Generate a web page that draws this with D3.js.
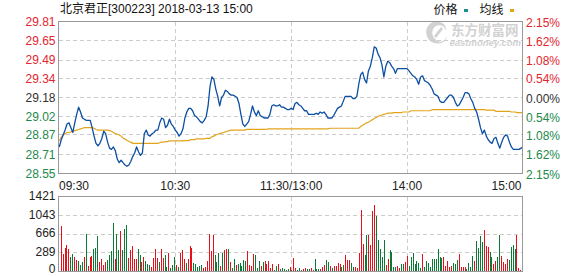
<!DOCTYPE html>
<html><head><meta charset="utf-8">
<script src="https://cdn.jsdelivr.net/npm/d3@7"></script>
<style>body{margin:0;background:#fff}svg{display:block}text{font-family:"Liberation Sans","Noto Sans CJK SC",sans-serif}</style>
</head><body><svg id="c" width="578" height="276"></svg>
<script>
const stockName = "北京君正[300223]";
const stamp = "2018-03-13 15:00";
const legendNames = ["价格", "均线"];
const priceTicks = ["29.81","29.65","29.49","29.34","29.18","29.02","28.87","28.71","28.55"];
const pctTicks = ["2.15%","1.62%","1.08%","0.54%","0.00%","0.54%","1.08%","1.62%","2.15%"];
const volTicks = ["1421","1043","666","289","0"];
const timeLabels = ["09:30","10:30","11:30/13:00","14:00","15:00"];
const timeIdx = [0,60,120,180,240];
const price = [
28.77,28.83,28.87,28.91,28.96,28.97,28.93,28.89,28.97,29.04,
29.10,29.06,29.01,29.00,28.99,28.99,28.99,28.93,28.86,28.80,
28.78,28.80,28.84,28.90,28.88,28.81,28.76,28.75,28.77,28.74,
28.67,28.64,28.66,28.64,28.62,28.61,28.62,28.65,28.69,28.72,
28.77,28.73,28.70,28.72,28.88,28.91,28.87,28.86,28.88,28.89,
28.91,28.91,28.97,29.01,29.00,28.93,28.95,29.00,28.96,28.94,
28.91,28.89,28.86,28.88,28.92,29.01,29.06,29.09,29.09,29.07,
29.03,29.02,29.00,28.98,28.97,28.99,29.02,29.11,29.27,29.35,
29.33,29.25,29.19,29.11,29.18,29.20,29.24,29.23,29.21,29.20,
29.20,29.19,29.18,29.13,29.04,28.96,28.94,28.96,28.98,29.04,
29.11,29.06,29.03,29.07,29.03,29.02,29.01,29.01,29.01,29.04,
29.11,29.12,29.11,29.11,29.12,29.10,29.10,29.09,29.08,29.08,
29.09,29.08,29.13,29.14,29.12,29.11,29.09,29.07,29.07,29.04,
29.04,29.04,29.04,29.05,29.04,29.06,29.05,29.06,29.04,29.01,
29.01,29.01,29.03,29.06,29.09,29.10,29.11,29.15,29.19,29.19,
29.19,29.19,29.17,29.17,29.19,29.29,29.37,29.39,29.33,29.30,
29.40,29.44,29.51,29.60,29.59,29.54,29.51,29.45,29.35,29.44,
29.48,29.47,29.44,29.42,29.38,29.42,29.42,29.42,29.42,29.42,
29.42,29.40,29.38,29.36,29.35,29.33,29.29,29.35,29.36,29.32,
29.31,29.30,29.28,29.25,29.21,29.20,29.19,29.15,29.14,29.14,
29.16,29.18,29.20,29.20,29.18,29.14,29.11,29.12,29.15,29.18,
29.22,29.22,29.21,29.17,29.14,29.09,29.06,29.00,28.93,28.88,
28.91,28.86,28.83,28.81,28.80,28.84,28.85,28.80,28.76,28.81,
28.85,28.87,28.86,28.81,28.77,28.75,28.75,28.75,28.75,28.76,
28.77];
const avgPrice = [
28.82,28.85,28.87,28.88,28.89,28.89,28.895,28.90,28.905,28.91,
28.915,28.92,28.925,28.93,28.93,28.93,28.93,28.93,28.925,28.915,
28.91,28.91,28.91,28.91,28.91,28.91,28.905,28.90,28.89,28.88,
28.875,28.87,28.86,28.845,28.835,28.825,28.815,28.81,28.80,28.80,
28.80,28.80,28.80,28.80,28.80,28.80,28.80,28.80,28.80,28.80,
28.80,28.80,28.805,28.81,28.81,28.815,28.815,28.82,28.82,28.82,
28.82,28.82,28.82,28.82,28.82,28.823,28.823,28.823,28.831,28.831,
28.831,28.837,28.837,28.837,28.837,28.837,28.842,28.842,28.842,28.855,
28.86,28.87,28.875,28.88,28.885,28.89,28.895,28.90,28.905,28.91,
28.91,28.91,28.91,28.91,28.91,28.91,28.91,28.915,28.915,28.915,
28.915,28.915,28.915,28.915,28.915,28.915,28.915,28.915,28.92,28.92,
28.92,28.92,28.92,28.92,28.92,28.92,28.92,28.92,28.92,28.92,
28.92,28.92,28.92,28.92,28.92,28.92,28.92,28.92,28.92,28.92,
28.92,28.92,28.92,28.92,28.92,28.92,28.92,28.92,28.92,28.92,
28.925,28.925,28.925,28.925,28.925,28.925,28.925,28.925,28.925,28.925,
28.925,28.925,28.925,28.925,28.925,28.925,28.94,28.95,28.96,28.97,
28.975,28.985,28.995,29.005,29.015,29.025,29.03,29.035,29.04,29.045,
29.05,29.05,29.05,29.055,29.055,29.055,29.055,29.055,29.06,29.06,
29.06,29.06,29.07,29.07,29.07,29.07,29.07,29.07,29.07,29.07,
29.07,29.07,29.07,29.08,29.08,29.08,29.08,29.08,29.08,29.08,
29.08,29.08,29.08,29.08,29.08,29.08,29.08,29.08,29.08,29.08,
29.08,29.08,29.08,29.08,29.08,29.08,29.08,29.08,29.08,29.08,
29.08,29.075,29.075,29.075,29.075,29.075,29.065,29.065,29.065,29.065,
29.065,29.065,29.065,29.065,29.06,29.06,29.06,29.055,29.055,29.055,
29.055];
const volume = [
853,322,448,493,429,272,322,259,208,189,
114,177,272,701,95,259,284,411,448,663,
177,221,114,177,208,303,385,916,227,714,
398,764,398,796,872,240,398,474,227,227,
417,303,177,259,189,133,114,82,240,429,
240,177,429,240,303,76,335,57,114,272,
107,76,335,398,227,158,227,474,448,158,
133,82,101,107,63,82,196,701,379,682,
303,177,335,95,335,398,429,411,177,63,
227,120,133,158,95,208,196,379,114,95,
316,297,63,189,95,171,189,126,189,57,
133,25,95,133,44,57,32,19,32,82,
20,
240,51,19,51,19,32,51,38,38,51,
19,221,38,38,38,69,114,208,171,95,
57,95,95,145,133,82,114,303,208,208,
145,69,69,51,335,1156,512,303,682,682,
493,1137,1251,1042,587,429,259,600,114,221,
398,360,69,69,88,51,133,133,171,284,
88,259,335,133,189,145,57,322,69,189,
145,69,227,227,227,417,265,246,265,95,
189,76,95,152,133,208,322,76,76,76,
38,152,76,284,189,568,436,663,549,777,
474,455,360,265,133,189,265,682,284,171,
133,227,208,455,493,417,682,57,
10,777];
const volDir = ("rrrrrggrrg"+"ggrgrrrggg"+"rrrrggggrg"+"grgggrrrrr"+"ggrrgggrrr"+"rgrrggrggg"+
  "rgrrrgrrrg"+"ggggrrrrrr"+"gggrgrrgrg"+"grgggggrrr"+"rgggrgrrrr"+"rggrgggggr"+
  "g"+"rrgggrrggr"+"rgggrrrggr"+"grrrrggrrr"+"ggrrrrrggr"+"rrrgggggrr"+"ggggrrggrr"+
  "gggggggrgg"+"ggggggggrr"+"rrrgggrrrr"+"ggggrggggr"+"rrggrrggrr"+"rrggggrr"+"r"+"r").split("");

const RED = "#e3262e", GREEN = "#23894a", DARK = "#333333";
const FRAME = "#999999", GRID = "#cccccc";
const svg = d3.select("#c");
const L = 58.5, R = 522.5, T = 21.5, B = 173.5, VT = 196.5, VB = 271.5;

const x = d3.scaleLinear().domain([0, 240]).range([59.3, 523]);
const y = d3.scaleLinear().domain([+priceTicks[8], +priceTicks[0]]).range([B, T]);
const xb = d3.scaleBand().domain(d3.range(volume.length)).range([60.7, 523.2]).paddingInner(0.48);
const yv = d3.scaleLinear().domain([0, +volTicks[0]]).range([VB - 0.5, VT]);
const yvTick = d3.scalePoint().domain(volTicks).range([VT - 0.5, VB - 0.5]);

// header
svg.append("text").attr("x", 60).attr("y", 13).attr("font-size", 12).attr("fill", "#111")
  .text(stockName + " " + stamp);
// legend
const lg = svg.append("g");
lg.append("text").attr("x", 433.5).attr("y", 14).attr("font-size", 12).attr("fill", "#111").text(legendNames[0]);
lg.append("rect").attr("x", 464).attr("y", 9).attr("width", 4).attr("height", 3).attr("fill", "#15908c");
lg.append("text").attr("x", 479.5).attr("y", 14).attr("font-size", 12).attr("fill", "#111").text(legendNames[1]);
lg.append("rect").attr("x", 510).attr("y", 9).attr("width", 4).attr("height", 3).attr("fill", "#e2a514");

// watermark
const wm = svg.append("g").attr("fill", "#d2d2d2");
wm.append("path").attr("d", "M430,41 C424,35 425,25 433,22 C440,20 447,24 446,31 C445,26 440,24 436,26 C431,29 431,36 436,40 C441,44 446,40 447,36 C447,43 437,46 430,41 Z");
wm.append("path").attr("d", "M434,36 L441,27 L443,29 L436,38 Z");
wm.append("text").attr("x", 451).attr("y", 34.5).attr("font-size", 13.5).attr("font-weight", "bold")
  .attr("font-family", "Noto Sans CJK SC").text("东方财富网");
wm.append("text").attr("x", 449.5).attr("y", 45.5).attr("font-size", 9.5).attr("font-weight", "bold")
  .attr("font-style", "italic").text("eastmoney.com");

// gridlines
const grid = svg.append("g").attr("stroke", GRID).attr("stroke-dasharray", "4,3").attr("shape-rendering", "crispEdges");
priceTicks.slice(1, -1).forEach(t => {
  const yy = Math.round(y(+t) - 0.5) + 0.5;
  grid.append("line").attr("x1", L).attr("x2", R).attr("y1", yy).attr("y2", yy);
});
timeIdx.slice(1, -1).forEach(t => {
  const xx = Math.floor(x(t)) + 0.5;
  grid.append("line").attr("x1", xx).attr("x2", xx).attr("y1", T).attr("y2", B);
  grid.append("line").attr("x1", xx).attr("x2", xx).attr("y1", VT).attr("y2", VB);
});
volTicks.slice(1, -1).forEach(t => {
  const yy = Math.round(yvTick(t)) + 0.5;
  grid.append("line").attr("x1", L).attr("x2", R).attr("y1", yy).attr("y2", yy);
});

// price axes labels
priceTicks.forEach((t, i) => {
  const c = i < 4 ? RED : (i === 4 ? DARK : GREEN);
  svg.append("text").attr("x", 55.5).attr("y", y(+t)).attr("dy", "0.36em").attr("text-anchor", "end")
    .attr("font-size", 12).attr("fill", c).text(t);
  svg.append("text").attr("x", 526).attr("y", y(+t) + 0.8).attr("dy", "0.36em")
    .attr("font-size", 12).attr("fill", c).text(pctTicks[i]);
});
// volume labels
volTicks.forEach((t, i) => {
  const shift = i === volTicks.length - 1 ? -1.8 : -0.3;
  svg.append("text").attr("x", 55.5).attr("y", yvTick(t) + shift).attr("dy", "0.34em").attr("text-anchor", "end")
    .attr("font-size", 12).attr("fill", "#222").text(t);
});
// time labels
timeLabels.forEach((t, i) => {
  const anchor = i === 0 ? "start" : (i === timeLabels.length - 1 ? "end" : "middle");
  const xx = i === 0 ? L + 0.5 : (i === timeLabels.length - 1 ? R - 1 : x(timeIdx[i]));
  svg.append("text").attr("x", xx).attr("y", 190).attr("text-anchor", anchor)
    .attr("font-size", 12).attr("fill", "#222").text(t);
});

// volume bars
svg.append("g").attr("shape-rendering", "crispEdges").selectAll("rect").data(volume).join("rect")
  .attr("x", (d, i) => Math.round(xb(i)))
  .attr("width", 1)
  .attr("y", d => yv(d))
  .attr("height", d => (VB - 0.5) - yv(d))
  .attr("fill", (d, i) => volDir[i] === "g" ? "#0b7a35" : "#e60f1a");

// lines
svg.append("clipPath").attr("id", "pc").append("rect").attr("x", L).attr("y", T).attr("width", R - L).attr("height", B - T);
svg.append("path").datum(avgPrice).attr("clip-path", "url(#pc)")
  .attr("fill", "none").attr("stroke", "#e2a31c").attr("stroke-width", 1.2)
  .attr("d", d3.line().x((d, i) => x(i)).y(d => y(d)));
svg.append("path").datum(price).attr("clip-path", "url(#pc)")
  .attr("fill", "none").attr("stroke", "#0c4fa2").attr("stroke-width", 1.3).attr("stroke-linejoin", "round")
  .attr("d", d3.line().x((d, i) => x(i)).y(d => y(d)));

// frames
const fr = svg.append("g").attr("fill", "none").attr("stroke", FRAME).attr("shape-rendering", "crispEdges");
fr.append("rect").attr("x", L).attr("y", T).attr("width", R - L).attr("height", B - T);
fr.append("rect").attr("x", L).attr("y", VT).attr("width", R - L).attr("height", VB - VT);
</script>
</body></html>
